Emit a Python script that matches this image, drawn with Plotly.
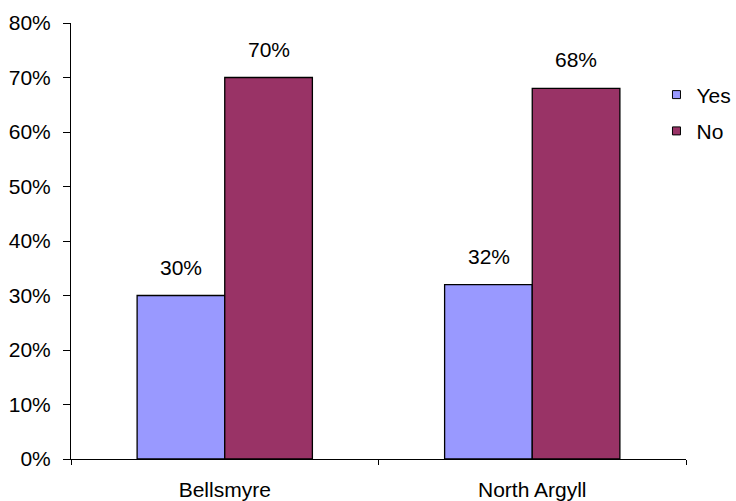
import plotly.graph_objects as go

categories = ["Bellsmyre", "North Argyll"]
yes_values = [0.30, 0.32]
no_values = [0.70, 0.68]
series_names = ["Yes", "No"]
series_colors = ["#9999FF", "#993366"]

FONT = "Liberation Sans, Arial, sans-serif"
FS = 21

fig = go.Figure()
for name, vals, color in zip(series_names, [yes_values, no_values], series_colors):
    fig.add_trace(go.Bar(
        x=categories, y=vals, name=name,
        marker=dict(color=color, line=dict(color="black", width=1.3)),
        showlegend=False,
    ))
    # legend entry with a small square swatch
    fig.add_trace(go.Scatter(
        x=[None], y=[None], mode="markers", name=name,
        marker=dict(symbol="square", size=8, color=color,
                    line=dict(color="black", width=1)),
        legendgroup=name, showlegend=True,
    ))

# value labels above each bar
offsets = {"Yes": -0.5, "No": 0.5}
for name, vals in zip(series_names, [yes_values, no_values]):
    for i, v in enumerate(vals):
        fig.add_annotation(
            x=i, y=v, xref="x", yref="y",
            text=f"{v*100:.0f}%", showarrow=False,
            xshift=offsets[name] * 87.5, yshift=15,
            yanchor="bottom",
            font=dict(family=FONT, size=FS, color="black"),
        )

fig.update_layout(
    width=736, height=501,
    margin=dict(l=71, r=50, t=23, b=42, autoexpand=False),
    paper_bgcolor="white", plot_bgcolor="white",
    barmode="group", bargap=0.43, bargroupgap=0,
    font=dict(family=FONT, size=FS, color="black"),
    legend=dict(x=0.952, y=0.882, xanchor="left", yanchor="top",
                font=dict(family=FONT, size=FS, color="black"),
                tracegroupgap=6, itemwidth=30, bgcolor="rgba(0,0,0,0)"),
)
fig.update_xaxes(
    type="category", range=[-0.5, 1.5],
    showline=True, linecolor="black", linewidth=1,
    ticks="outside", ticklen=5, tickcolor="black", tickson="boundaries",
    ticklabelstandoff=12,
    showgrid=False, zeroline=False,
    tickfont=dict(family=FONT, size=FS, color="black"),
)
fig.update_yaxes(
    range=[0, 0.8], dtick=0.1, tickformat=".0%",
    showline=True, linecolor="black", linewidth=1,
    ticks="outside", ticklen=7, tickcolor="black",
    ticklabelstandoff=8,
    showgrid=False, zeroline=False,
    tickfont=dict(family=FONT, size=FS, color="black"),
)

fig.write_html("out.html")
